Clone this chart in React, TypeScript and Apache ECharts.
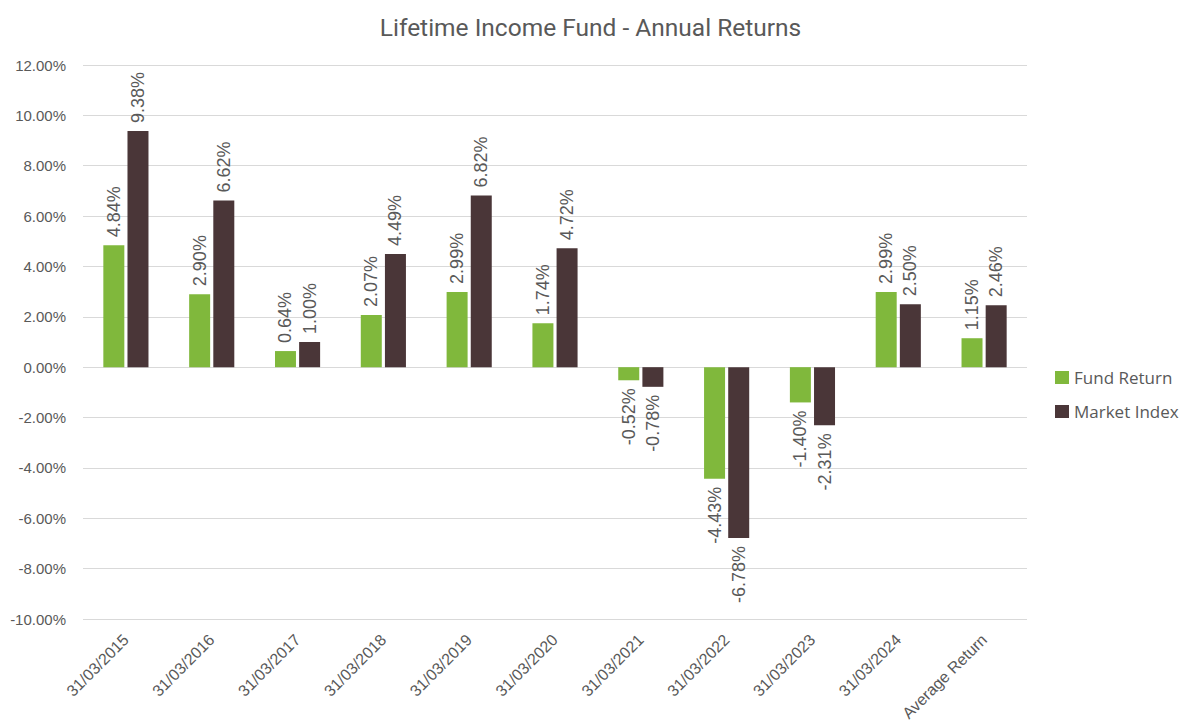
import React, { useEffect, useRef } from "react";
import * as echarts from "echarts";

const categories = [
  "31/03/2015", "31/03/2016", "31/03/2017", "31/03/2018", "31/03/2019",
  "31/03/2020", "31/03/2021", "31/03/2022", "31/03/2023", "31/03/2024", "Average Return",
];
const fundReturn = [4.84, 2.9, 0.64, 2.07, 2.99, 1.74, -0.52, -4.43, -1.4, 2.99, 1.15];
const marketIndex = [9.38, 6.62, 1.0, 4.49, 6.82, 4.72, -0.78, -6.78, -2.31, 2.5, 2.46];

const GREEN = "#80B83C";
const DARK = "#4A3638";
const TEXT = "#595959";

function barData(values: number[]) {
  return values.map((v) => ({
    value: v,
    label: v < 0
      ? { position: "bottom", align: "right", verticalAlign: "middle" }
      : { position: "top", align: "left", verticalAlign: "middle" },
  }));
}

export default function App() {
  const ref = useRef<HTMLDivElement>(null);
  useEffect(() => {
    if (!ref.current) return;
    const chart = echarts.init(ref.current, undefined, { renderer: "svg" });
    const label = {
      show: true,
      rotate: 90,
      distance: 8,
      color: TEXT,
      fontSize: 18,
      fontFamily: "Liberation Sans",
      formatter: (p: any) => Number(p.value).toFixed(2) + "%",
    };
    chart.setOption({
      animation: false,
      backgroundColor: "#ffffff",
      title: {
        text: "Lifetime Income Fund - Annual Returns",
        left: "center",
        top: 10,
        textStyle: { color: TEXT, fontSize: 24.5, fontWeight: "normal", fontFamily: "Roboto" },
      },
      legend: {
        orient: "vertical",
        left: 1050,
        top: 364,
        itemWidth: 14,
        itemHeight: 13,
        itemGap: 17,
        icon: "rect",
        textStyle: { color: TEXT, fontSize: 17, fontFamily: "Open Sans" },
        data: ["Fund Return", "Market Index"],
      },
      grid: {
        left: 83, right: 154, top: 65, bottom: 105,
        containLabel: false,
        outerBoundsMode: "none",
      },
      xAxis: {
        type: "category",
        data: categories,
        axisTick: { show: false },
        axisLine: { show: false },
        axisLabel: {
          rotate: 45,
          interval: 0,
          margin: 18,
          color: TEXT,
          fontSize: 16,
          fontFamily: "Liberation Sans",
        },
      },
      yAxis: {
        type: "value",
        min: -10,
        max: 12,
        interval: 2,
        axisLine: { show: false },
        axisTick: { show: false },
        splitLine: { lineStyle: { color: "#D9D9D9", width: 1 } },
        axisLabel: {
          margin: 17,
          color: TEXT,
          fontSize: 15,
          fontFamily: "Liberation Sans",
          formatter: (v: number) => v.toFixed(2) + "%",
        },
      },
      series: [
        {
          name: "Fund Return",
          type: "bar",
          data: barData(fundReturn),
          barWidth: 21,
          barGap: "15%",
          itemStyle: { color: GREEN },
          label,
        },
        {
          name: "Market Index",
          type: "bar",
          data: barData(marketIndex),
          barWidth: 21,
          barGap: "15%",
          itemStyle: { color: DARK },
          label,
        },
      ],
    });
    return () => chart.dispose();
  }, []);
  return (
    <div
      ref={ref}
      style={{ position: "absolute", left: 0, top: 0, width: 1181, height: 724 }}
    />
  );
}
